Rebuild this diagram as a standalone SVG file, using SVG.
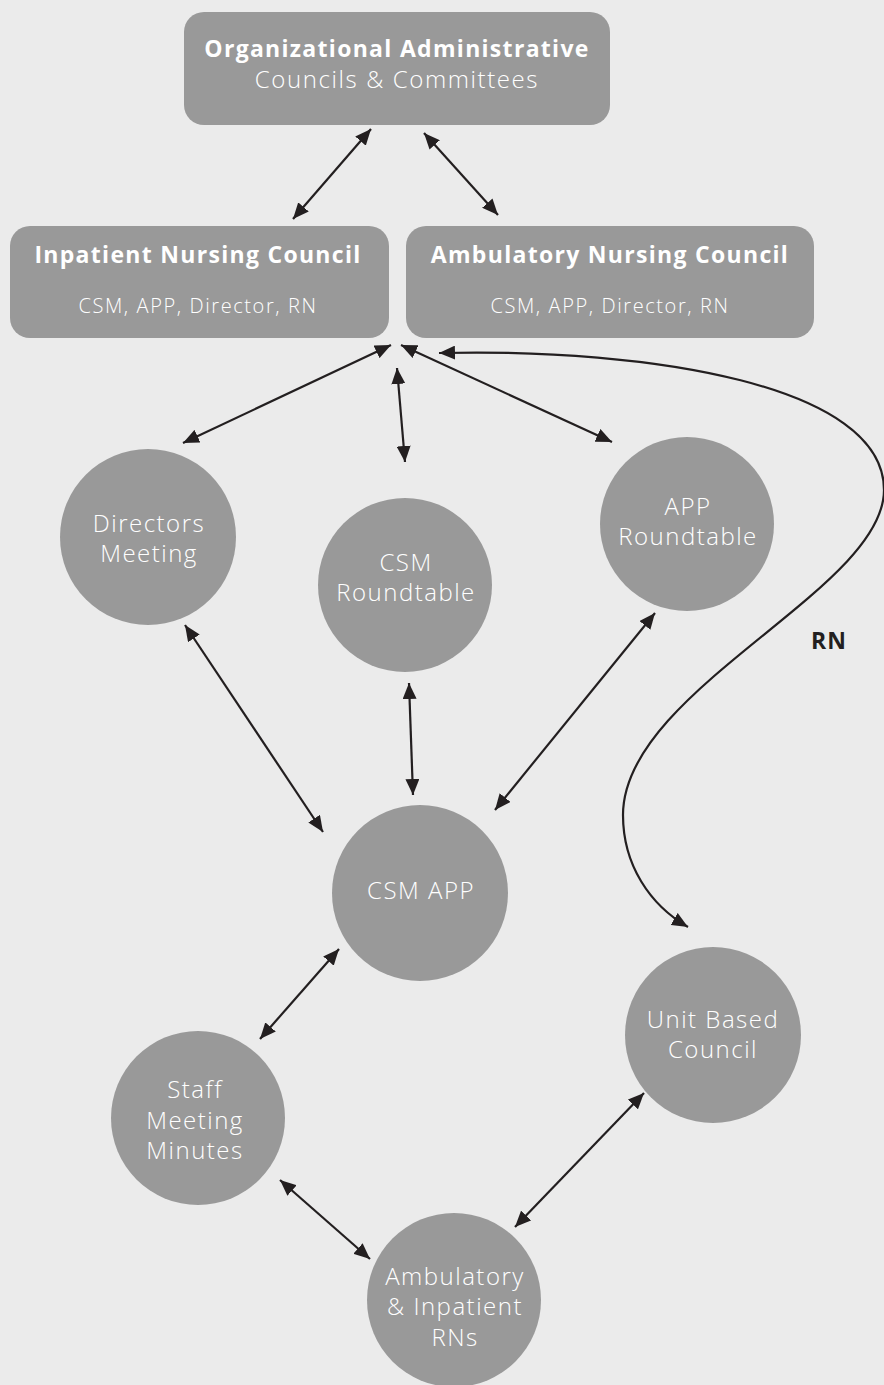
<svg xmlns="http://www.w3.org/2000/svg" width="884" height="1385" viewBox="0 0 884 1385">
<defs>
<style>
.box{fill:#999999}
.t{font-family:"Open Sans","Liberation Sans",sans-serif;fill:#ffffff;text-anchor:middle;font-weight:350}
.b{font-weight:700}
.c{font-size:24px;letter-spacing:1.5px}
.ln{stroke:#231f20;stroke-width:2.2;fill:none}
</style>
<marker id="ah" viewBox="0 0 16 14" refX="16" refY="7" markerWidth="16" markerHeight="14" markerUnits="userSpaceOnUse" orient="auto-start-reverse">
<path d="M0,0 L16,7 L0,14 z" fill="#231f20"/>
</marker>
</defs>
<rect width="884" height="1385" fill="#ebebeb"/>
<g id="org">
<rect class="box" x="184" y="12" width="426" height="113" rx="20"/>
<text class="t b" x="397" y="57" font-size="23" letter-spacing="1.3">Organizational Administrative</text>
<text class="t" x="397" y="88" font-size="24" letter-spacing="1.6">Councils &amp; Committees</text>
</g>
<g id="inpatient">
<rect class="box" x="10" y="226" width="379" height="112" rx="20"/>
<text class="t b" x="198" y="263" font-size="23" letter-spacing="1.3">Inpatient Nursing Council</text>
<text class="t" x="198" y="313" font-size="20" letter-spacing="1.6">CSM, APP, Director, RN</text>
</g>
<g id="ambulatory">
<rect class="box" x="406" y="226" width="408" height="112" rx="20"/>
<text class="t b" x="610" y="263" font-size="23" letter-spacing="1.3">Ambulatory Nursing Council</text>
<text class="t" x="610" y="313" font-size="20" letter-spacing="1.6">CSM, APP, Director, RN</text>
</g>
<g id="directors">
<circle class="box" cx="148" cy="537" r="88"/>
<text class="t c" x="149" y="532">Directors</text>
<text class="t c" x="149" y="562">Meeting</text>
</g>
<g id="csmrt">
<circle class="box" cx="405" cy="585" r="87"/>
<text class="t c" x="406" y="571">CSM</text>
<text class="t c" x="406" y="601">Roundtable</text>
</g>
<g id="apprt">
<circle class="box" cx="687" cy="524" r="87"/>
<text class="t c" x="688" y="515">APP</text>
<text class="t c" x="688" y="545">Roundtable</text>
</g>
<g id="csmapp">
<circle class="box" cx="420" cy="893" r="88"/>
<text class="t c" x="421" y="899">CSM APP</text>
</g>
<g id="unit">
<circle class="box" cx="713" cy="1035" r="88"/>
<text class="t c" x="713" y="1028">Unit Based</text>
<text class="t c" x="713" y="1058">Council</text>
</g>
<g id="staff">
<circle class="box" cx="198" cy="1118" r="87"/>
<text class="t c" x="195" y="1098">Staff</text>
<text class="t c" x="195" y="1129">Meeting</text>
<text class="t c" x="195" y="1159">Minutes</text>
</g>
<g id="rns">
<circle class="box" cx="454" cy="1300" r="87"/>
<text class="t c" x="455" y="1285">Ambulatory</text>
<text class="t c" x="455" y="1315">&amp; Inpatient</text>
<text class="t c" x="455" y="1346">RNs</text>
</g>
<g id="connectors">
<line class="ln" x1="371" y1="129" x2="293" y2="219" marker-start="url(#ah)" marker-end="url(#ah)"/>
<line class="ln" x1="424" y1="133" x2="498" y2="215" marker-start="url(#ah)" marker-end="url(#ah)"/>
<line class="ln" x1="391" y1="345" x2="183" y2="443" marker-start="url(#ah)" marker-end="url(#ah)"/>
<line class="ln" x1="397" y1="368" x2="405" y2="462" marker-start="url(#ah)" marker-end="url(#ah)"/>
<line class="ln" x1="401" y1="345" x2="612" y2="442" marker-start="url(#ah)" marker-end="url(#ah)"/>
<line class="ln" x1="185" y1="625" x2="323" y2="832" marker-start="url(#ah)" marker-end="url(#ah)"/>
<line class="ln" x1="409" y1="683" x2="413" y2="795" marker-start="url(#ah)" marker-end="url(#ah)"/>
<line class="ln" x1="655" y1="613" x2="495" y2="810" marker-start="url(#ah)" marker-end="url(#ah)"/>
<line class="ln" x1="339" y1="949" x2="260" y2="1039" marker-start="url(#ah)" marker-end="url(#ah)"/>
<line class="ln" x1="280" y1="1180" x2="370" y2="1259" marker-start="url(#ah)" marker-end="url(#ah)"/>
<line class="ln" x1="644" y1="1093" x2="515" y2="1227" marker-start="url(#ah)" marker-end="url(#ah)"/>
<path class="ln" d="M439,353 C650,348 884,385 884,490 C884,590 623,690 623,815 C623,865 650,905 688,927" marker-start="url(#ah)" marker-end="url(#ah)"/>
<text x="829" y="649" font-family="'Open Sans','Liberation Sans',sans-serif" font-weight="700" font-size="23" letter-spacing="1" fill="#231f20" text-anchor="middle">RN</text>
</g>
</svg>
